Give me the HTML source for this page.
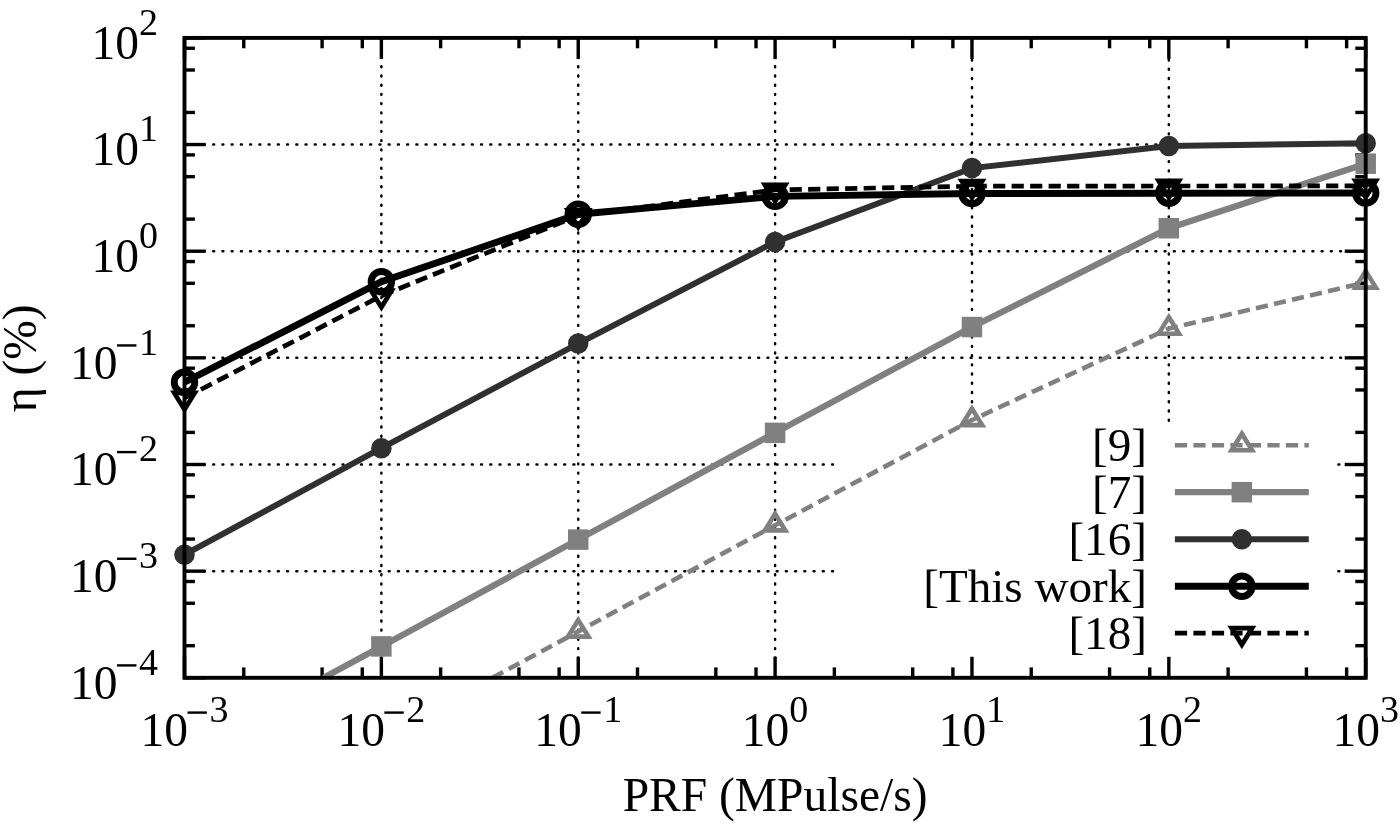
<!DOCTYPE html><html><head><meta charset="utf-8"><style>html,body{margin:0;padding:0;background:#fff;}svg{display:block;will-change:transform;}text{font-family:"Liberation Serif",serif;fill:#000;}</style></head><body>
<svg width="1400" height="824" viewBox="0 0 1400 824">
<rect x="0" y="0" width="1400" height="824" fill="#fff"/>
<g stroke="#000" stroke-width="2.5" stroke-dasharray="0.9 8.337" stroke-dashoffset="-1.0" stroke-linecap="round" fill="none">
<line x1="184.50" y1="571.15" x2="837.00" y2="571.15"/>
<line x1="1337.40" y1="571.15" x2="1365.70" y2="571.15"/>
<line x1="184.50" y1="464.50" x2="837.00" y2="464.50"/>
<line x1="1337.40" y1="464.50" x2="1365.70" y2="464.50"/>
<line x1="184.50" y1="357.85" x2="1365.70" y2="357.85"/>
<line x1="184.50" y1="251.20" x2="1365.70" y2="251.20"/>
<line x1="184.50" y1="144.55" x2="1365.70" y2="144.55"/>
<line x1="381.37" y1="677.80" x2="381.37" y2="37.90"/>
<line x1="578.23" y1="677.80" x2="578.23" y2="37.90"/>
<line x1="775.10" y1="677.80" x2="775.10" y2="37.90"/>
<line x1="971.97" y1="421.70" x2="971.97" y2="37.90"/>
<line x1="1168.83" y1="421.70" x2="1168.83" y2="37.90"/>
</g>
<g stroke="#000" stroke-width="3.4">
<line x1="184.50" y1="677.80" x2="184.50" y2="656.80"/>
<line x1="184.50" y1="37.90" x2="184.50" y2="58.90"/>
<line x1="243.76" y1="677.80" x2="243.76" y2="667.40"/>
<line x1="243.76" y1="37.90" x2="243.76" y2="48.30"/>
<line x1="322.10" y1="677.80" x2="322.10" y2="667.40"/>
<line x1="322.10" y1="37.90" x2="322.10" y2="48.30"/>
<line x1="362.29" y1="677.80" x2="362.29" y2="667.40"/>
<line x1="362.29" y1="37.90" x2="362.29" y2="48.30"/>
<line x1="381.37" y1="677.80" x2="381.37" y2="656.80"/>
<line x1="381.37" y1="37.90" x2="381.37" y2="58.90"/>
<line x1="440.63" y1="677.80" x2="440.63" y2="667.40"/>
<line x1="440.63" y1="37.90" x2="440.63" y2="48.30"/>
<line x1="518.97" y1="677.80" x2="518.97" y2="667.40"/>
<line x1="518.97" y1="37.90" x2="518.97" y2="48.30"/>
<line x1="559.15" y1="677.80" x2="559.15" y2="667.40"/>
<line x1="559.15" y1="37.90" x2="559.15" y2="48.30"/>
<line x1="578.23" y1="677.80" x2="578.23" y2="656.80"/>
<line x1="578.23" y1="37.90" x2="578.23" y2="58.90"/>
<line x1="637.50" y1="677.80" x2="637.50" y2="667.40"/>
<line x1="637.50" y1="37.90" x2="637.50" y2="48.30"/>
<line x1="715.84" y1="677.80" x2="715.84" y2="667.40"/>
<line x1="715.84" y1="37.90" x2="715.84" y2="48.30"/>
<line x1="756.02" y1="677.80" x2="756.02" y2="667.40"/>
<line x1="756.02" y1="37.90" x2="756.02" y2="48.30"/>
<line x1="775.10" y1="677.80" x2="775.10" y2="656.80"/>
<line x1="775.10" y1="37.90" x2="775.10" y2="58.90"/>
<line x1="834.36" y1="677.80" x2="834.36" y2="667.40"/>
<line x1="834.36" y1="37.90" x2="834.36" y2="48.30"/>
<line x1="912.70" y1="677.80" x2="912.70" y2="667.40"/>
<line x1="912.70" y1="37.90" x2="912.70" y2="48.30"/>
<line x1="952.89" y1="677.80" x2="952.89" y2="667.40"/>
<line x1="952.89" y1="37.90" x2="952.89" y2="48.30"/>
<line x1="971.97" y1="677.80" x2="971.97" y2="656.80"/>
<line x1="971.97" y1="37.90" x2="971.97" y2="58.90"/>
<line x1="1031.23" y1="677.80" x2="1031.23" y2="667.40"/>
<line x1="1031.23" y1="37.90" x2="1031.23" y2="48.30"/>
<line x1="1109.57" y1="677.80" x2="1109.57" y2="667.40"/>
<line x1="1109.57" y1="37.90" x2="1109.57" y2="48.30"/>
<line x1="1149.75" y1="677.80" x2="1149.75" y2="667.40"/>
<line x1="1149.75" y1="37.90" x2="1149.75" y2="48.30"/>
<line x1="1168.83" y1="677.80" x2="1168.83" y2="656.80"/>
<line x1="1168.83" y1="37.90" x2="1168.83" y2="58.90"/>
<line x1="1228.10" y1="677.80" x2="1228.10" y2="667.40"/>
<line x1="1228.10" y1="37.90" x2="1228.10" y2="48.30"/>
<line x1="1306.44" y1="677.80" x2="1306.44" y2="667.40"/>
<line x1="1306.44" y1="37.90" x2="1306.44" y2="48.30"/>
<line x1="1346.62" y1="677.80" x2="1346.62" y2="667.40"/>
<line x1="1346.62" y1="37.90" x2="1346.62" y2="48.30"/>
<line x1="1365.70" y1="677.80" x2="1365.70" y2="656.80"/>
<line x1="1365.70" y1="37.90" x2="1365.70" y2="58.90"/>
<line x1="184.50" y1="677.80" x2="205.50" y2="677.80"/>
<line x1="1365.70" y1="677.80" x2="1344.70" y2="677.80"/>
<line x1="184.50" y1="645.70" x2="194.90" y2="645.70"/>
<line x1="1365.70" y1="645.70" x2="1355.30" y2="645.70"/>
<line x1="184.50" y1="603.25" x2="194.90" y2="603.25"/>
<line x1="1365.70" y1="603.25" x2="1355.30" y2="603.25"/>
<line x1="184.50" y1="581.49" x2="194.90" y2="581.49"/>
<line x1="1365.70" y1="581.49" x2="1355.30" y2="581.49"/>
<line x1="184.50" y1="571.15" x2="205.50" y2="571.15"/>
<line x1="1365.70" y1="571.15" x2="1344.70" y2="571.15"/>
<line x1="184.50" y1="539.05" x2="194.90" y2="539.05"/>
<line x1="1365.70" y1="539.05" x2="1355.30" y2="539.05"/>
<line x1="184.50" y1="496.60" x2="194.90" y2="496.60"/>
<line x1="1365.70" y1="496.60" x2="1355.30" y2="496.60"/>
<line x1="184.50" y1="474.84" x2="194.90" y2="474.84"/>
<line x1="1365.70" y1="474.84" x2="1355.30" y2="474.84"/>
<line x1="184.50" y1="464.50" x2="205.50" y2="464.50"/>
<line x1="1365.70" y1="464.50" x2="1344.70" y2="464.50"/>
<line x1="184.50" y1="432.40" x2="194.90" y2="432.40"/>
<line x1="1365.70" y1="432.40" x2="1355.30" y2="432.40"/>
<line x1="184.50" y1="389.95" x2="194.90" y2="389.95"/>
<line x1="1365.70" y1="389.95" x2="1355.30" y2="389.95"/>
<line x1="184.50" y1="368.19" x2="194.90" y2="368.19"/>
<line x1="1365.70" y1="368.19" x2="1355.30" y2="368.19"/>
<line x1="184.50" y1="357.85" x2="205.50" y2="357.85"/>
<line x1="1365.70" y1="357.85" x2="1344.70" y2="357.85"/>
<line x1="184.50" y1="325.75" x2="194.90" y2="325.75"/>
<line x1="1365.70" y1="325.75" x2="1355.30" y2="325.75"/>
<line x1="184.50" y1="283.30" x2="194.90" y2="283.30"/>
<line x1="1365.70" y1="283.30" x2="1355.30" y2="283.30"/>
<line x1="184.50" y1="261.54" x2="194.90" y2="261.54"/>
<line x1="1365.70" y1="261.54" x2="1355.30" y2="261.54"/>
<line x1="184.50" y1="251.20" x2="205.50" y2="251.20"/>
<line x1="1365.70" y1="251.20" x2="1344.70" y2="251.20"/>
<line x1="184.50" y1="219.10" x2="194.90" y2="219.10"/>
<line x1="1365.70" y1="219.10" x2="1355.30" y2="219.10"/>
<line x1="184.50" y1="176.65" x2="194.90" y2="176.65"/>
<line x1="1365.70" y1="176.65" x2="1355.30" y2="176.65"/>
<line x1="184.50" y1="154.89" x2="194.90" y2="154.89"/>
<line x1="1365.70" y1="154.89" x2="1355.30" y2="154.89"/>
<line x1="184.50" y1="144.55" x2="205.50" y2="144.55"/>
<line x1="1365.70" y1="144.55" x2="1344.70" y2="144.55"/>
<line x1="184.50" y1="112.45" x2="194.90" y2="112.45"/>
<line x1="1365.70" y1="112.45" x2="1355.30" y2="112.45"/>
<line x1="184.50" y1="70.00" x2="194.90" y2="70.00"/>
<line x1="1365.70" y1="70.00" x2="1355.30" y2="70.00"/>
<line x1="184.50" y1="48.24" x2="194.90" y2="48.24"/>
<line x1="1365.70" y1="48.24" x2="1355.30" y2="48.24"/>
<line x1="184.50" y1="37.90" x2="205.50" y2="37.90"/>
<line x1="1365.70" y1="37.90" x2="1344.70" y2="37.90"/>
</g>
<clipPath id="pc"><rect x="184.5" y="37.9" width="1181.2" height="639.9"/></clipPath>
<polyline clip-path="url(#pc)" points="492.41,677.80 578.23,631.50 775.10,525.30 971.97,420.00 1168.83,328.60 1365.70,282.50" fill="none" stroke="#808080" stroke-width="4.6" stroke-dasharray="12.2 6.3" stroke-linejoin="miter"/>
<path d="M578.23,620.02 L567.98,636.62 L588.48,636.62 Z" fill="none" stroke="#808080" stroke-width="4.6" stroke-linejoin="miter"/>
<path d="M775.10,513.82 L764.85,530.42 L785.35,530.42 Z" fill="none" stroke="#808080" stroke-width="4.6" stroke-linejoin="miter"/>
<path d="M971.97,408.52 L961.72,425.12 L982.22,425.12 Z" fill="none" stroke="#808080" stroke-width="4.6" stroke-linejoin="miter"/>
<path d="M1168.83,317.12 L1158.58,333.73 L1179.08,333.73 Z" fill="none" stroke="#808080" stroke-width="4.6" stroke-linejoin="miter"/>
<path d="M1365.70,271.02 L1355.45,287.62 L1375.95,287.62 Z" fill="none" stroke="#808080" stroke-width="4.6" stroke-linejoin="miter"/>
<polyline clip-path="url(#pc)" points="323.49,677.80 381.37,646.40 578.23,539.60 775.10,432.85 971.97,327.05 1168.83,228.25 1365.70,163.70" fill="none" stroke="#808080" stroke-width="6.3" stroke-linejoin="miter"/>
<rect x="371.12" y="636.15" width="20.50" height="20.50" fill="#808080"/>
<rect x="567.98" y="529.35" width="20.50" height="20.50" fill="#808080"/>
<rect x="764.85" y="422.60" width="20.50" height="20.50" fill="#808080"/>
<rect x="961.72" y="316.80" width="20.50" height="20.50" fill="#808080"/>
<rect x="1158.58" y="218.00" width="20.50" height="20.50" fill="#808080"/>
<rect x="1355.45" y="153.45" width="20.50" height="20.50" fill="#808080"/>
<polyline points="184.50,554.70 381.37,448.20 578.23,343.60 775.10,241.95 971.97,168.10 1168.83,146.10 1365.70,143.20" fill="none" stroke="#303030" stroke-width="6.0" stroke-linejoin="miter"/>
<circle cx="184.50" cy="554.70" r="10.25" fill="#303030"/>
<circle cx="381.37" cy="448.20" r="10.25" fill="#303030"/>
<circle cx="578.23" cy="343.60" r="10.25" fill="#303030"/>
<circle cx="775.10" cy="241.95" r="10.25" fill="#303030"/>
<circle cx="971.97" cy="168.10" r="10.25" fill="#303030"/>
<circle cx="1168.83" cy="146.10" r="10.25" fill="#303030"/>
<circle cx="1365.70" cy="143.20" r="10.25" fill="#303030"/>
<polyline points="184.50,382.20 381.37,281.80 578.23,214.25 775.10,196.40 971.97,193.50 1168.83,193.20 1365.70,193.00" fill="none" stroke="#000000" stroke-width="6.9" stroke-linejoin="miter"/>
<circle cx="184.50" cy="382.20" r="10.25" fill="none" stroke="#000000" stroke-width="6.9"/>
<circle cx="381.37" cy="281.80" r="10.25" fill="none" stroke="#000000" stroke-width="6.9"/>
<circle cx="578.23" cy="214.25" r="10.25" fill="none" stroke="#000000" stroke-width="6.9"/>
<circle cx="775.10" cy="196.40" r="10.25" fill="none" stroke="#000000" stroke-width="6.9"/>
<circle cx="971.97" cy="193.50" r="10.25" fill="none" stroke="#000000" stroke-width="6.9"/>
<circle cx="1168.83" cy="193.20" r="10.25" fill="none" stroke="#000000" stroke-width="6.9"/>
<circle cx="1365.70" cy="193.00" r="10.25" fill="none" stroke="#000000" stroke-width="6.9"/>
<polyline points="184.50,398.00 381.37,295.80 578.23,215.50 775.10,189.90 971.97,186.20 1168.83,186.00 1365.70,185.90" fill="none" stroke="#000000" stroke-width="4.7" stroke-dasharray="12.2 6.3" stroke-linejoin="miter"/>
<path d="M184.50,409.48 L174.25,392.88 L194.75,392.88 Z" fill="none" stroke="#000000" stroke-width="4.7" stroke-linejoin="miter"/>
<path d="M381.37,307.28 L371.12,290.68 L391.62,290.68 Z" fill="none" stroke="#000000" stroke-width="4.7" stroke-linejoin="miter"/>
<path d="M578.23,226.98 L567.98,210.38 L588.48,210.38 Z" fill="none" stroke="#000000" stroke-width="4.7" stroke-linejoin="miter"/>
<path d="M775.10,201.38 L764.85,184.78 L785.35,184.78 Z" fill="none" stroke="#000000" stroke-width="4.7" stroke-linejoin="miter"/>
<path d="M971.97,197.68 L961.72,181.07 L982.22,181.07 Z" fill="none" stroke="#000000" stroke-width="4.7" stroke-linejoin="miter"/>
<path d="M1168.83,197.48 L1158.58,180.88 L1179.08,180.88 Z" fill="none" stroke="#000000" stroke-width="4.7" stroke-linejoin="miter"/>
<path d="M1365.70,197.38 L1355.45,180.78 L1375.95,180.78 Z" fill="none" stroke="#000000" stroke-width="4.7" stroke-linejoin="miter"/>
<rect x="184.5" y="37.9" width="1181.20" height="639.90" fill="none" stroke="#000" stroke-width="3.9"/>
<text x="70.07" y="698.60" font-size="47.5">10</text><rect x="117.03" y="664.20" width="19.4" height="2.4" fill="#000"/><text x="139.00" y="674.60" font-size="38.00">4</text>
<text x="70.07" y="591.95" font-size="47.5">10</text><rect x="117.03" y="557.55" width="19.4" height="2.4" fill="#000"/><text x="139.00" y="567.95" font-size="38.00">3</text>
<text x="70.07" y="485.30" font-size="47.5">10</text><rect x="117.03" y="450.90" width="19.4" height="2.4" fill="#000"/><text x="139.00" y="461.30" font-size="38.00">2</text>
<text x="70.07" y="378.65" font-size="47.5">10</text><rect x="117.03" y="344.25" width="19.4" height="2.4" fill="#000"/><text x="139.00" y="354.65" font-size="38.00">1</text>
<text x="91.50" y="272.00" font-size="47.5">10</text><text x="139.00" y="248.00" font-size="38.00">0</text>
<text x="91.50" y="165.35" font-size="47.5">10</text><text x="139.00" y="141.35" font-size="38.00">1</text>
<text x="91.50" y="58.70" font-size="47.5">10</text><text x="139.00" y="34.70" font-size="38.00">2</text>
<text x="140.53" y="745.80" font-size="47.5">10</text><rect x="187.50" y="711.40" width="19.4" height="2.4" fill="#000"/><text x="209.47" y="721.80" font-size="38.00">3</text>
<text x="337.40" y="745.80" font-size="47.5">10</text><rect x="384.36" y="711.40" width="19.4" height="2.4" fill="#000"/><text x="406.33" y="721.80" font-size="38.00">2</text>
<text x="534.27" y="745.80" font-size="47.5">10</text><rect x="581.23" y="711.40" width="19.4" height="2.4" fill="#000"/><text x="603.20" y="721.80" font-size="38.00">1</text>
<text x="741.85" y="745.80" font-size="47.5">10</text><text x="789.35" y="721.80" font-size="38.00">0</text>
<text x="938.72" y="745.80" font-size="47.5">10</text><text x="986.22" y="721.80" font-size="38.00">1</text>
<text x="1135.58" y="745.80" font-size="47.5">10</text><text x="1183.08" y="721.80" font-size="38.00">2</text>
<text x="1332.45" y="745.80" font-size="47.5">10</text><text x="1379.95" y="721.80" font-size="38.00">3</text>
<text x="775.10" y="811.4" font-size="47.5" text-anchor="middle">PRF (MPulse/s)</text>
<text transform="translate(36,358.3) rotate(-90)" x="0" y="0" font-size="47.5" text-anchor="middle">η (%)</text>
<text x="1146.90" y="461.45" font-size="47.1" text-anchor="end">[9]</text>
<text x="1146.90" y="508.45" font-size="47.1" text-anchor="end">[7]</text>
<text x="1146.90" y="555.45" font-size="47.1" text-anchor="end">[16]</text>
<text x="1146.90" y="602.45" font-size="47.1" text-anchor="end">[This work]</text>
<text x="1146.90" y="649.45" font-size="47.1" text-anchor="end">[18]</text>
<line x1="1174.9" y1="445.2" x2="1308.8" y2="445.2" stroke="#808080" stroke-width="4.6" stroke-dasharray="12.2 6.3"/>
<path d="M1241.85,433.72 L1231.60,450.32 L1252.10,450.32 Z" fill="none" stroke="#808080" stroke-width="4.6"/>
<line x1="1174.9" y1="492.2" x2="1308.8" y2="492.2" stroke="#808080" stroke-width="6.3"/>
<rect x="1231.60" y="481.95" width="20.5" height="20.5" fill="#808080"/>
<line x1="1174.9" y1="539.2" x2="1308.8" y2="539.2" stroke="#303030" stroke-width="6.0"/>
<circle cx="1241.85" cy="539.2" r="10.25" fill="#303030"/>
<line x1="1174.9" y1="586.2" x2="1308.8" y2="586.2" stroke="#000000" stroke-width="6.9"/>
<circle cx="1241.85" cy="586.2" r="10.25" fill="none" stroke="#000000" stroke-width="6.9"/>
<line x1="1174.9" y1="633.2" x2="1308.8" y2="633.2" stroke="#000000" stroke-width="4.7" stroke-dasharray="12.2 6.3"/>
<path d="M1241.85,644.68 L1231.60,628.08 L1252.10,628.08 Z" fill="none" stroke="#000000" stroke-width="4.7"/>
</svg></body></html>
